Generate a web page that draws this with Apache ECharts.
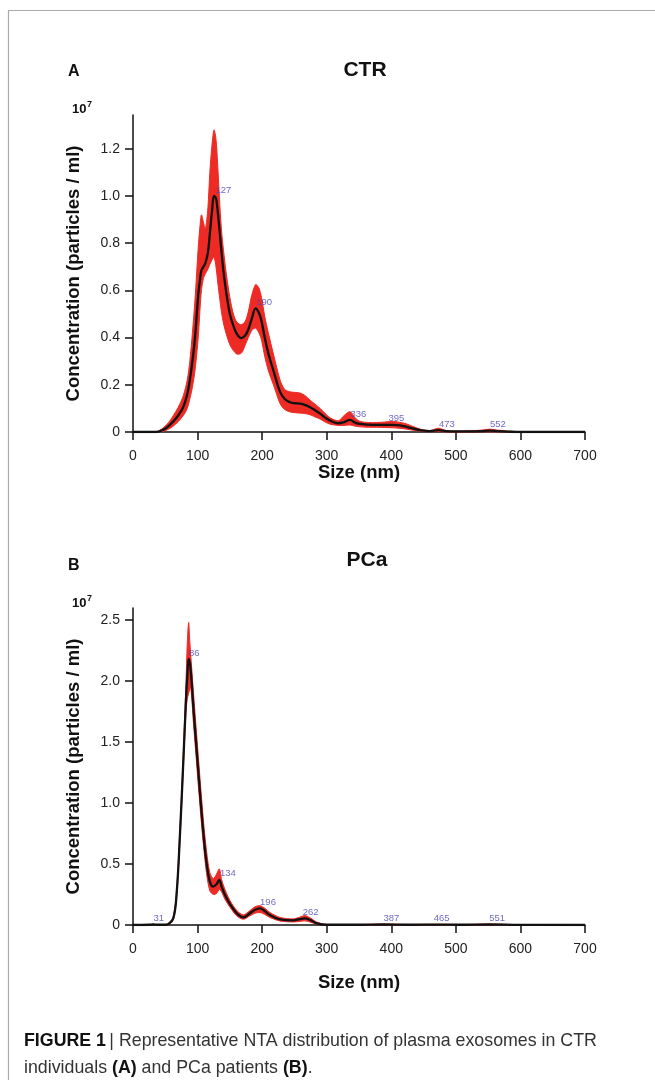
<!DOCTYPE html>
<html><head><meta charset="utf-8">
<script src="https://cdn.jsdelivr.net/npm/echarts@6/dist/echarts.min.js"></script>
<style>html,body{margin:0;padding:0;background:#fff}#c{width:655px;height:1084px}</style>
</head><body><div id="c"></div>
<script>
// ---------- Data (concentration in units of 10^7 particles/ml) ----------
var yTicksA = [0, 0.2, 0.4, 0.6, 0.8, 1.0, 1.2];
var yTicksB = [0, 0.5, 1.0, 1.5, 2.0, 2.5];

var ctrSize  = [0, 35, 47, 55, 62, 70, 78, 84, 88, 92, 96, 101, 104, 106, 109, 112, 116, 119, 122.5, 125.5, 128.5, 131, 134.5, 137.5, 141, 145, 150, 155.5, 161, 168, 174, 178.6, 184, 190, 195, 199, 204, 209.6, 217.5, 227.8, 235, 243.3, 250, 258.8, 266, 274.3, 282, 289.8, 297, 305.3, 318.2, 327, 336, 344, 351.6, 365, 377.5, 390, 403, 415, 424, 435, 445, 460, 473, 485, 500, 520, 540, 552, 565, 580, 600, 700];
var ctrMean  = [0, 0, 0.01, 0.025, 0.044, 0.07, 0.107, 0.16, 0.22, 0.30, 0.40, 0.58, 0.65, 0.685, 0.70, 0.715, 0.76, 0.84, 0.94, 1.0, 0.99, 0.94, 0.84, 0.75, 0.66, 0.58, 0.50, 0.45, 0.415, 0.398, 0.41, 0.435, 0.48, 0.524, 0.505, 0.47, 0.40, 0.333, 0.26, 0.17, 0.14, 0.126, 0.122, 0.12, 0.115, 0.105, 0.092, 0.078, 0.062, 0.048, 0.037, 0.042, 0.051, 0.04, 0.034, 0.031, 0.030, 0.030, 0.030, 0.027, 0.022, 0.014, 0.008, 0.004, 0.008, 0.004, 0.003, 0.003, 0.004, 0.006, 0.004, 0.002, 0, 0];
var ctrLower = [0, 0, 0.003, 0.012, 0.024, 0.044, 0.07, 0.10, 0.14, 0.19, 0.26, 0.40, 0.53, 0.60, 0.65, 0.67, 0.69, 0.71, 0.73, 0.74, 0.70, 0.64, 0.56, 0.50, 0.45, 0.41, 0.37, 0.345, 0.33, 0.335, 0.37, 0.40, 0.43, 0.44, 0.42, 0.39, 0.32, 0.26, 0.20, 0.12, 0.095, 0.085, 0.082, 0.08, 0.078, 0.073, 0.064, 0.055, 0.043, 0.033, 0.028, 0.028, 0.03, 0.025, 0.022, 0.02, 0.02, 0.019, 0.018, 0.015, 0.012, 0.007, 0.004, 0.001, 0.002, 0, 0, 0, 0.001, 0.001, 0, 0, 0, 0];
var ctrUpper = [0, 0, 0.018, 0.04, 0.068, 0.105, 0.155, 0.22, 0.30, 0.42, 0.56, 0.78, 0.88, 0.92, 0.89, 0.86, 0.95, 1.10, 1.22, 1.28, 1.24, 1.14, 0.96, 0.84, 0.75, 0.66, 0.57, 0.50, 0.465, 0.455, 0.47, 0.51, 0.58, 0.625, 0.61, 0.57, 0.49, 0.42, 0.33, 0.22, 0.18, 0.17, 0.168, 0.165, 0.155, 0.135, 0.118, 0.10, 0.08, 0.06, 0.048, 0.07, 0.086, 0.06, 0.045, 0.04, 0.04, 0.042, 0.045, 0.04, 0.034, 0.022, 0.012, 0.006, 0.016, 0.006, 0.004, 0.005, 0.008, 0.012, 0.008, 0.004, 0, 0];
var ctrPeaks = [127, 190, 336, 395, 473, 552];
var ctrPeakV = [1.0, 0.524, 0.051, 0.031, 0.008, 0.006];

var pcaSize  = [0, 25, 31, 38, 50, 55, 62.5, 67.6, 72.8, 78, 82, 84, 86.2, 88, 89.3, 91, 93.4, 98.6, 103.8, 109, 114, 119, 124.4, 129.6, 133.7, 137.3, 142.5, 150.2, 160.6, 170.9, 181, 189, 196.7, 204, 212, 227.7, 248, 258, 266, 275, 284.5, 300, 350, 387, 430, 465, 510, 551, 600, 700];
var pcaMean  = [0, 0.002, 0.004, 0.002, 0.002, 0.008, 0.055, 0.26, 0.75, 1.35, 1.84, 2.03, 2.18, 2.15, 2.09, 1.98, 1.79, 1.43, 1.08, 0.75, 0.505, 0.355, 0.314, 0.336, 0.37, 0.314, 0.246, 0.172, 0.096, 0.063, 0.096, 0.125, 0.137, 0.115, 0.082, 0.046, 0.038, 0.048, 0.055, 0.04, 0.014, 0.002, 0.002, 0.004, 0.002, 0.003, 0.002, 0.004, 0.001, 0];
var pcaLower = [0, 0.001, 0.002, 0.001, 0, 0.004, 0.045, 0.23, 0.70, 1.30, 1.75, 1.85, 1.90, 1.93, 1.95, 1.86, 1.67, 1.32, 0.97, 0.66, 0.42, 0.28, 0.25, 0.26, 0.29, 0.27, 0.21, 0.145, 0.075, 0.047, 0.075, 0.097, 0.102, 0.087, 0.062, 0.033, 0.025, 0.029, 0.034, 0.023, 0.007, 0, 0, 0.001, 0, 0.001, 0, 0.001, 0, 0];
var pcaUpper = [0, 0.003, 0.006, 0.003, 0.004, 0.012, 0.07, 0.29, 0.80, 1.42, 1.98, 2.30, 2.48, 2.32, 2.22, 2.10, 1.92, 1.56, 1.20, 0.86, 0.60, 0.43, 0.38, 0.42, 0.46, 0.37, 0.29, 0.20, 0.12, 0.083, 0.118, 0.15, 0.158, 0.138, 0.103, 0.062, 0.05, 0.064, 0.077, 0.057, 0.024, 0.004, 0.004, 0.007, 0.004, 0.006, 0.004, 0.007, 0.002, 0];
var pcaPeaks = [31, 86, 134, 196, 262, 387, 465, 551];
var pcaPeakV = [0.004, 2.18, 0.37, 0.137, 0.055, 0.004, 0.002, 0.004];

// ---------- Chart ----------
var FONT = 'Liberation Sans, Arial, sans-serif';
var RED = '#ee2a24';
function zip(a, b) { return a.map(function (v, i) { return [v, b[i]]; }); }

function bandSeries(idx, xs, lo, hi) {
  return {
    type: 'custom', xAxisIndex: idx, yAxisIndex: idx, z: 2, silent: true,
    data: [[0, 0]],
    renderItem: function (params, api) {
      var pts = [];
      for (var i = 0; i < xs.length; i++) pts.push(api.coord([xs[i], hi[i]]));
      for (var j = xs.length - 1; j >= 0; j--) pts.push(api.coord([xs[j], lo[j]]));
      return { type: 'polygon', shape: { points: pts, smooth: 0.3 },
        style: { fill: RED, stroke: RED, lineWidth: 1 } };
    }
  };
}
function meanSeries(idx, xs, m) {
  return { type: 'line', xAxisIndex: idx, yAxisIndex: idx, z: 3, data: zip(xs, m),
    smooth: 0.4, symbol: 'none', silent: true,
    lineStyle: { color: '#111', width: 2.3 } };
}
function peakSeries(idx, xs, vs) {
  return { type: 'scatter', xAxisIndex: idx, yAxisIndex: idx, z: 4, data: zip(xs, vs),
    symbolSize: 1, itemStyle: { color: 'rgba(0,0,0,0)' }, silent: true,
    label: { show: true, position: 'right', distance: 0, offset: [0, -6],
      formatter: function (p) { return String(p.value[0]); },
      color: '#4a44b8', fontSize: 9.5, fontFamily: FONT } };
}
function xAx(idx, gap) {
  return { type: 'value', gridIndex: idx, min: 0, max: 700, interval: 100,
    name: 'Size (nm)', nameLocation: 'middle', nameGap: gap,
    nameTextStyle: { fontFamily: FONT, fontWeight: 'bold', fontSize: 18.5, color: '#111' },
    axisLine: { onZero: false, lineStyle: { color: '#111', width: 1.5 } },
    axisTick: { length: 8, lineStyle: { color: '#111', width: 1.5 } },
    axisLabel: { margin: 17, fontFamily: FONT, fontSize: 14, color: '#222' },
    splitLine: { show: false } };
}
function yAx(idx, max, ticks) {
  return { type: 'value', gridIndex: idx, min: 0, max: max, interval: idx === 0 ? 0.2 : 0.5,
    name: 'Concentration (particles / ml)', nameLocation: 'middle', nameGap: 50,
    nameTextStyle: { fontFamily: FONT, fontWeight: 'bold', fontSize: 18.5, color: '#111' },
    axisLine: { show: true, lineStyle: { color: '#111', width: 1.5 } },
    axisTick: { show: true, length: 8, customValues: ticks, lineStyle: { color: '#111', width: 1.5 } },
    axisLabel: { margin: 13, fontFamily: FONT, fontSize: 14, color: '#222', customValues: ticks,
      formatter: function (v) { return v === 0 ? '0' : v.toFixed(1); } },
    splitLine: { show: false } };
}
function txt(x, y, t, size, weight, extra) {
  var s = { text: t, x: x, y: y, fill: '#111', font: (weight || 'normal') + ' ' + size + 'px ' + FONT,
    textVerticalAlign: 'middle' };
  if (extra) for (var k in extra) s[k] = extra[k];
  return { type: 'text', style: s, z: 10 };
}

var chart = echarts.init(document.getElementById('c'), null, { renderer: 'canvas' });
chart.setOption({
  animation: false,
  backgroundColor: '#fff',
  grid: [
    { left: 133, width: 452, top: 115, height: 317 },
    { left: 133, width: 452, top: 608, height: 317 }
  ],
  xAxis: [xAx(0, 31), xAx(1, 48.5)],
  yAxis: [yAx(0, 1.343, yTicksA), yAx(1, 2.598, yTicksB)],
  series: [
    bandSeries(0, ctrSize, ctrLower, ctrUpper), meanSeries(0, ctrSize, ctrMean), peakSeries(0, ctrPeaks, ctrPeakV),
    bandSeries(1, pcaSize, pcaLower, pcaUpper), meanSeries(1, pcaSize, pcaMean), peakSeries(1, pcaPeaks, pcaPeakV)
  ],
  graphic: [
    { type: 'line', shape: { x1: 8, y1: 10.5, x2: 655, y2: 10.5 }, style: { stroke: '#aaa', lineWidth: 1.2 } },
    { type: 'line', shape: { x1: 8.5, y1: 10, x2: 8.5, y2: 1080 }, style: { stroke: '#aaa', lineWidth: 1.2 } },
    txt(68, 72, 'A', 16, 'bold'),
    txt(365, 70, 'CTR', 21, 'bold', { textAlign: 'center' }),
    txt(72, 109.5, '10', 13, 'bold'),
    txt(87, 104.5, '7', 9, 'bold'),
    txt(68, 566, 'B', 16, 'bold'),
    txt(367, 560, 'PCa', 21, 'bold', { textAlign: 'center' }),
    txt(72, 603.5, '10', 13, 'bold'),
    txt(87, 598.5, '7', 9, 'bold'),
    { type: 'text', z: 10, style: { x: 24, y: 1041, textVerticalAlign: 'middle',
      text: '{b|FIGURE 1} {n|| Representative NTA distribution of plasma exosomes in CTR}',
      rich: { b: { font: 'bold 17.8px ' + FONT, fill: '#111' }, n: { font: '17.8px ' + FONT, fill: '#333' } } } },
    { type: 'text', z: 10, style: { x: 24, y: 1068, textVerticalAlign: 'middle',
      text: '{n|individuals }{b|(A)}{n| and PCa patients }{b|(B)}{n|.}',
      rich: { b: { font: 'bold 17.8px ' + FONT, fill: '#111' }, n: { font: '17.8px ' + FONT, fill: '#333' } } } }
  ]
});
</script></body></html>
